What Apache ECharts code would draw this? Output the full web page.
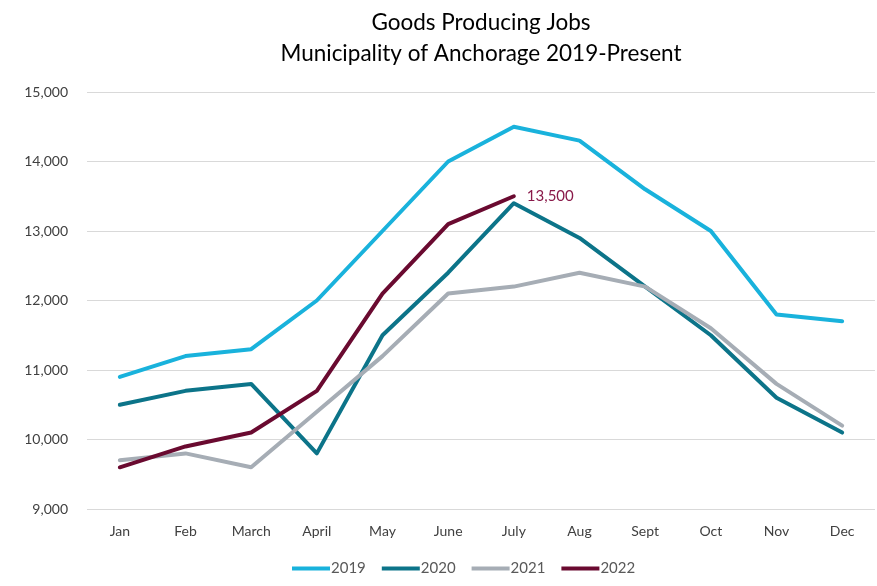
<!DOCTYPE html>
<html>
<head>
<meta charset="utf-8">
<script src="https://cdn.jsdelivr.net/npm/echarts@6/dist/echarts.min.js"></script>
<style>
  html, body { margin: 0; padding: 0; background: #fff; }
  #chart { width: 877px; height: 586px; }
</style>
</head>
<body>
<div id="chart"></div>
<script>
// month labels
var months = ['Jan', 'Feb', 'March', 'April', 'May', 'June', 'July', 'Aug', 'Sept', 'Oct', 'Nov', 'Dec'];
// jobs per year
var jobs2019 = [10900, 11200, 11300, 12000, 13000, 14000, 14500, 14300, 13600, 13000, 11800, 11700];
var jobs2020 = [10500, 10700, 10800, 9800, 11500, 12400, 13400, 12900, 12200, 11500, 10600, 10100];
var jobs2021 = [9700, 9800, 9600, 10400, 11200, 12100, 12200, 12400, 12200, 11600, 10800, 10200];
var jobs2022 = [9600, 9900, 10100, 10700, 12100, 13100, 13500];

var font = 'Lato, "Open Sans", sans-serif';

function makeLine(name, data, color, lastLabel) {
  return {
    name: name,
    type: 'line',
    data: data,
    symbol: 'none',
    smooth: false,
    lineStyle: { color: color, width: 4, cap: 'round', join: 'round' },
    itemStyle: { color: color },
    label: { show: false },
    endLabel: lastLabel ? {
      show: true,
      color: '#8a1a4a',
      fontFamily: font,
      fontSize: 15,
      offset: [5, 0],
      formatter: function (p) { return p.value.toLocaleString('en-US'); }
    } : undefined,
    emphasis: { disabled: true }
  };
}

var myChart = echarts.init(document.getElementById('chart'));
myChart.setOption({
  animation: false,
  title: {
    text: 'Goods Producing Jobs\nMunicipality of Anchorage 2019-Present',
    left: 476,
    textAlign: 'center',
    top: 2,
    textStyle: {
      color: '#000',
      fontFamily: font,
      fontWeight: 'normal',
      fontSize: 22.5,
      lineHeight: 31
    }
  },
  grid: { left: 87, right: 2, top: 92, bottom: 77 },
  legend: {
    bottom: 5,
    left: 287,
    itemWidth: 38,
    itemHeight: 4,
    itemGap: 16,
    icon: 'rect',
    textStyle: { color: '#595959', fontFamily: font, fontSize: 15, padding: [0, 0, 0, -4] },
    data: ['2019', '2020', '2021', '2022']
  },
  xAxis: {
    type: 'category',
    data: months,
    boundaryGap: true,
    axisLine: { show: false },
    axisTick: { show: false },
    axisLabel: { color: '#404040', fontFamily: font, fontSize: 14, margin: 15 }
  },
  yAxis: {
    type: 'value',
    min: 9000,
    max: 15000,
    interval: 1000,
    axisLine: { show: false },
    axisTick: { show: false },
    axisLabel: {
      color: '#404040',
      fontFamily: font,
      fontSize: 14,
      margin: 19,
      formatter: function (v) { return v.toLocaleString('en-US'); }
    },
    splitLine: { lineStyle: { color: '#d9d9d9', width: 1 } }
  },
  series: [
    makeLine('2019', jobs2019, '#19b2dc', false),
    makeLine('2020', jobs2020, '#0c7489', false),
    makeLine('2021', jobs2021, '#a6adb5', false),
    makeLine('2022', jobs2022, '#6a0a30', true)
  ]
});
</script>
</body>
</html>
